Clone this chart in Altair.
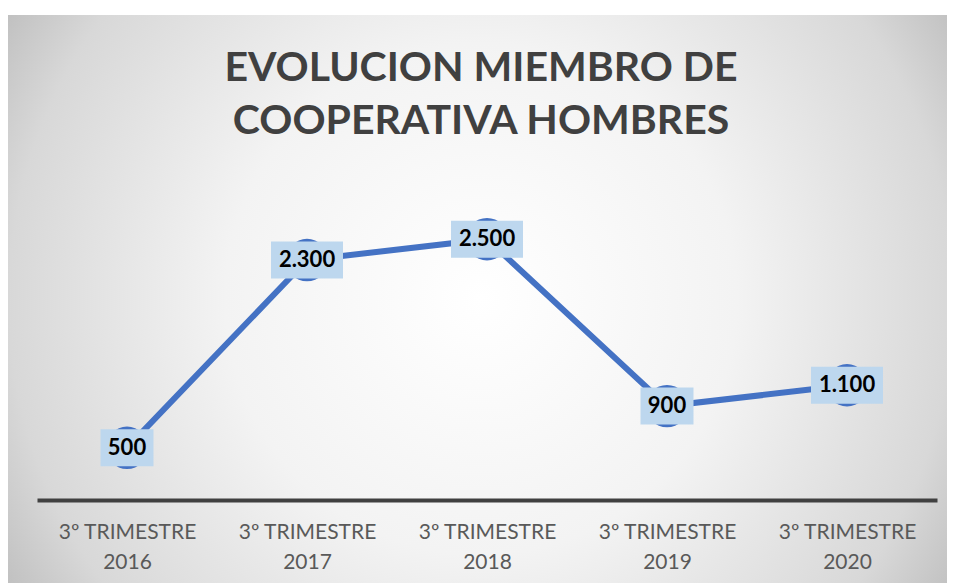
import altair as alt
import pandas as pd

# ---- data ----
years = ["2016", "2017", "2018", "2019", "2020"]
quarter = "3º TRIMESTRE"
values = [500, 2300, 2500, 900, 1100]

categories = [f"{quarter} {y}" for y in years]
labels = [f"{v:,}".replace(",", ".") for v in values]

df = pd.DataFrame({"cat": categories, "value": values, "label": labels})

FONT = "Lato"
BLUE = "#4472C4"
BOX = "#BDD7EE"

x_enc = alt.X(
    "cat:N",
    sort=categories,
    scale=alt.Scale(type="point", padding=0.5),
    axis=alt.Axis(
        title=None,
        ticks=False,
        grid=False,
        zindex=1,
        domainColor="#404040",
        domainWidth=4,
        labelFont=FONT,
        labelFontSize=21,
        labelColor="#595959",
        labelLineHeight=30,
        labelPadding=21,
        labelAngle=0,
        labelBaseline="top",
        labelExpr="[substring(datum.label, 0, 12), substring(datum.label, 13)]",
    ),
)
y_enc = alt.Y("value:Q", scale=alt.Scale(domain=[0, 3000]), axis=None)

base = alt.Chart(df)

# background with radial gradient
bg = alt.Chart(pd.DataFrame({"a": [0]})).mark_rect(
    fill={
        "gradient": "radial",
        "x1": 0.5, "y1": 0.5, "r1": 0,
        "x2": 0.5, "y2": 0.5, "r2": 0.6,
        "stops": [
            {"offset": 0, "color": "#ffffff"},
            {"offset": 0.45, "color": "#f3f3f3"},
            {"offset": 0.83, "color": "#d8d8d8"},
            {"offset": 1, "color": "#bcbcbc"},
        ],
    }
).encode(
    x=alt.value(-30), x2=alt.value(918), y=alt.value(-172), y2=alt.value(396)
)

line = base.mark_line(color=BLUE, strokeWidth=6).encode(x=x_enc, y=y_enc)
pts = base.mark_circle(color=BLUE, opacity=1, size=1800).encode(x=x_enc, y=y_enc)

box_narrow = base.transform_filter("length(datum.label) <= 3").mark_rect(
    color=BOX, width=53, height=37
).encode(x=x_enc, y=y_enc)
box_wide = base.transform_filter("length(datum.label) > 3").mark_rect(
    color=BOX, width=72, height=37
).encode(x=x_enc, y=y_enc)

txt = base.mark_text(
    font=FONT, fontSize=22, fontWeight="bold", color="#000000",
    align="center", baseline="middle"
).encode(x=x_enc, y=y_enc, text="label:N")

chart = alt.layer(bg, line, pts, box_narrow, box_wide, txt).properties(
    width=900,
    height=313,
    autosize=alt.AutoSizeParams(type="none"),
    padding={"left": 29, "top": 179, "right": 10, "bottom": 83},
    background="#ffffff",
    title=alt.TitleParams(
        text=["EVOLUCION MIEMBRO DE", "COOPERATIVA HOMBRES"],
        font=FONT,
        fontSize=41,
        fontWeight="bold",
        color="#404040",
        anchor="middle",
        frame="group",
        lineHeight=53,
        offset=-128,
        dx=-6,
    ),
).configure_view(stroke=None)

chart.save("out.html", embed_options={"renderer": "svg", "actions": False})
